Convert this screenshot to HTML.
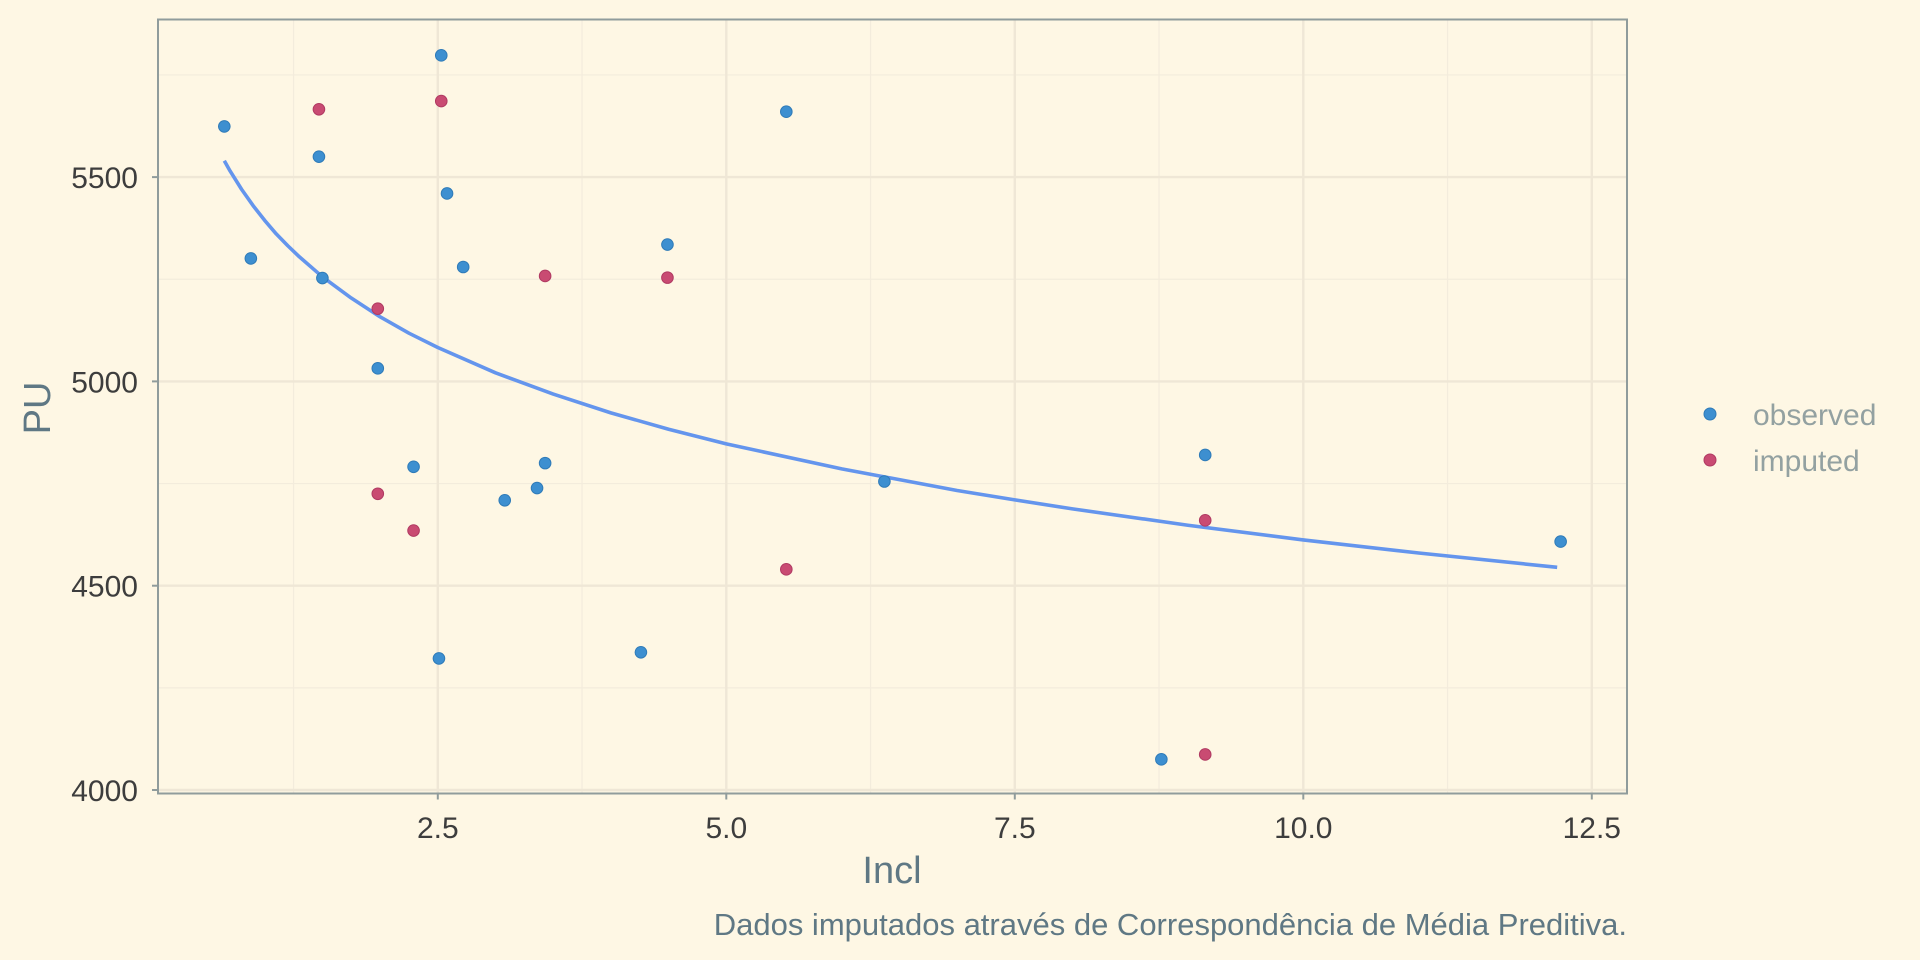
<!DOCTYPE html>
<html><head><meta charset="utf-8"><style>
html,body{margin:0;padding:0;background:#fef7e4;}
svg{display:block;font-family:"Liberation Sans",sans-serif;}
</style></head><body>
<svg id="chart" width="1920" height="960" viewBox="0 0 1920 960" xmlns="http://www.w3.org/2000/svg">
<rect width="1920" height="960" fill="#fef7e4"/>
<g id="grid"></g>
<g id="curve"></g>
<g id="points"></g>
<rect x="158" y="19.5" width="1469" height="774" fill="none" stroke="#909c9c" stroke-width="2"/>
<g id="axes"></g>
<text x="892" y="883" font-size="38" fill="#5f7884" text-anchor="middle">Incl</text>
<text transform="translate(50,408) rotate(-90)" font-size="38" fill="#5f7884" text-anchor="middle">PU</text>
<text x="1627" y="935" font-size="31" fill="#5f7884" text-anchor="end">Dados imputados através de Correspondência de Média Preditiva.</text>
<g>
<g><circle cx="1710" cy="414" r="6" fill="#3d8fd0" stroke="#2f7bb8"/><text x="1753" y="425" font-size="30" fill="#93a1a1">observed</text></g>
<g><circle cx="1710" cy="460" r="6" fill="#c94b72" stroke="#b03a62"/><text x="1753" y="471" font-size="30" fill="#93a1a1">imputed</text></g>
</g>
</svg>
<script>
const obsX=[0.65,0.88,1.47,1.50,1.98,2.29,2.53,2.51,2.58,2.72,3.08,3.36,3.43,4.26,4.49,5.52,6.37,9.15,8.77,12.23];
const obsY=[5624,5301,5550,5253,5032,4791,5798,4322,5460,5280,4709,4739,4800,4337,5335,5660,4755,4820,4075,4608];
const impX=[1.47,2.53,1.98,1.98,2.29,3.43,4.49,5.52,9.15,9.15];
const impY=[5666,5686,5178,4725,4635,5258,5254,4540,4660,4087];
const curveX=[0.65,0.7,0.8,0.9,1,1.1,1.2,1.3,1.5,1.75,2,2.25,2.5,3,3.5,4,4.5,5,6,7,7.5,8,9,10,11,12.2];
const curveY=[5540,5515,5470,5430,5394,5361,5332,5305,5256,5204,5158,5118,5083,5021,4969,4923,4883,4847,4786,4733,4710,4688,4648,4612,4580,4545];
const xTicks=[2.5,5.0,7.5,10.0,12.5];
const xTickLabels=["2.5","5.0","7.5","10.0","12.5"];
const xMinor=[1.25,3.75,6.25,8.75,11.25];
const yTicks=[4000,4500,5000,5500];
const yTickLabels=["4000","4500","5000","5500"];
const yMinor=[4250,4750,5250,5750];

const NS="http://www.w3.org/2000/svg";
const X=v=>149.3+115.4*v;
const Y=v=>790-(v-4000)*0.4086;
const L=158,R=1627,T=19.5,B=793.5;
function mk(tag,attrs,parent){const e=document.createElementNS(NS,tag);for(const k in attrs)e.setAttribute(k,attrs[k]);parent.appendChild(e);return e;}
const grid=document.getElementById('grid');
xMinor.forEach(v=>{const e=mk('line',{x1:X(v),x2:X(v),y1:T,y2:B,stroke:'#f3ecdc','stroke-width':1.2},grid);

});
yMinor.forEach(v=>{const e=mk('line',{x1:L,x2:R,y1:Y(v),y2:Y(v),stroke:'#f3ecdc','stroke-width':1.2},grid);

});
xTicks.forEach(v=>{const e=mk('line',{x1:X(v),x2:X(v),y1:T,y2:B,stroke:'#efe7d6','stroke-width':2.4},grid);

});
yTicks.forEach(v=>{const e=mk('line',{x1:L,x2:R,y1:Y(v),y2:Y(v),stroke:'#efe7d6','stroke-width':2.4},grid);

});
const cg=document.getElementById('curve');
const pl=mk('polyline',{points:curveX.map((x,i)=>X(x)+','+Y(curveY[i])).join(' '),fill:'none',stroke:'#6495ed','stroke-width':3.6,'stroke-linejoin':'round'},cg);


const pg=document.getElementById('points');
obsX.forEach((x,i)=>{const c=mk('circle',{cx:X(x),cy:Y(obsY[i]),r:5.8,fill:'#3d8fd0',stroke:'#2f7bb8','stroke-width':1},pg);

});
impX.forEach((x,i)=>{const c=mk('circle',{cx:X(x),cy:Y(impY[i]),r:5.8,fill:'#c94b72',stroke:'#b03a62','stroke-width':1},pg);

});
const ax=document.getElementById('axes');
xTicks.forEach((v,i)=>{const t=mk('line',{x1:X(v),x2:X(v),y1:B,y2:B+6,stroke:'#909c9c','stroke-width':2},ax);


const l=mk('text',{x:X(v),y:838,'font-size':30,fill:'#3d3d3d','text-anchor':'middle'},ax);l.textContent=xTickLabels[i];

});
yTicks.forEach((v,i)=>{const t=mk('line',{x1:L-6,x2:L,y1:Y(v),y2:Y(v),stroke:'#909c9c','stroke-width':2},ax);


const l=mk('text',{x:138,y:Y(v)+11,'font-size':30,fill:'#3d3d3d','text-anchor':'end'},ax);l.textContent=yTickLabels[i];

});
</script>
</body></html>
